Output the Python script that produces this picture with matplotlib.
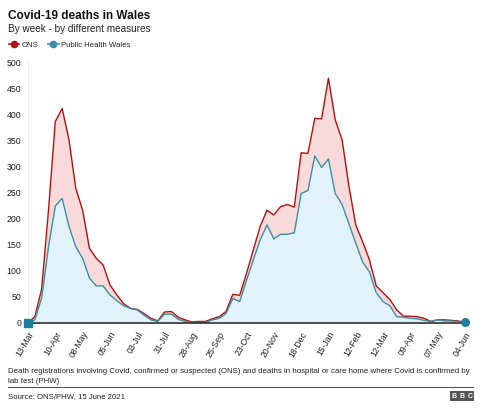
import numpy as np
import matplotlib
matplotlib.use('Agg')
import matplotlib.pyplot as plt
import matplotlib.transforms as mtransforms
from matplotlib.lines import Line2D

plt.rcParams['font.family'] = ['Liberation Sans', 'DejaVu Sans']

# weekly deaths, week ending 13-Mar-2020 .. 04-Jun-2021
ons = [0, 12, 65, 216, 386, 411, 351, 258, 216, 143, 124, 111, 73, 54, 37,
       28, 26, 18, 9, 4, 21, 22, 11, 6, 2, 3, 3, 8, 12, 22,
       55, 53, 95, 140, 185, 216, 207, 223, 227, 222, 326, 325, 392, 391, 469,
       389, 351, 262, 188, 156, 121, 71, 58, 45, 25, 13, 13, 12, 9, 3, 6, 6, 5, 4, 1]
phw = [0, 6, 48, 146, 224, 239, 185, 146, 124, 86, 71, 71, 54, 43, 33,
       28, 25, 15, 6, 3, 17, 17, 7, 3, 1, 1, 1, 6, 9, 18,
       47, 41, 82, 121, 159, 188, 161, 170, 170, 173, 248, 254, 320, 298, 314,
       248, 227, 190, 153, 117, 98, 58, 41, 33, 12, 11, 9, 8, 5, 3, 6, 4, 4, 3, 1]
tick_labels = ['13-Mar', '10-Apr', '08-May', '05-Jun', '03-Jul', '31-Jul', '28-Aug',
               '25-Sep', '23-Oct', '20-Nov', '18-Dec', '15-Jan', '12-Feb', '12-Mar',
               '09-Apr', '07-May', '04-Jun']
y_ticks = [0, 50, 100, 150, 200, 250, 300, 350, 400, 450, 500]

RED = '#b0120f'
PINK = '#f8dada'
TEAL = '#3d8fa6'
LIGHTBLUE = '#e2f2fb'
TXT = '#222222'

W, H = 480, 408
fig = plt.figure(figsize=(W / 100, H / 100), dpi=100)
ax = fig.add_axes([28 / W, 1 - 323 / H, (465 - 28) / W, (323 - 62) / H])

x = np.arange(len(ons))
ax.fill_between(x, ons, 0, color=PINK, lw=0, zorder=1)
ax.fill_between(x, phw, 0, color=LIGHTBLUE, lw=0, zorder=2)
ax.plot(x, ons, color=RED, lw=1.0, zorder=3)
ax.plot(x, phw, color=TEAL, lw=1.0, zorder=4)
ax.plot([x[0]], [phw[0]], marker='s', ms=5.5, color='#1a7f9e', zorder=6, clip_on=False)
ax.plot([x[-1]], [phw[-1]], marker='o', ms=5.5, color='#1a7f9e', zorder=6, clip_on=False)

ax.set_xlim(0, len(ons) - 1)
ax.set_ylim(0, 500)
ax.set_yticks(y_ticks)
ax.set_yticklabels([str(v) for v in y_ticks], fontsize=6.3, color=TXT)
ax.set_xticks(np.arange(0, len(ons), 4))
ax.set_xticklabels(tick_labels, fontsize=6.2, color=TXT, rotation=60,
                   ha='right', va='top', rotation_mode='anchor')
offset = mtransforms.ScaledTranslation(7 / 100, 0, fig.dpi_scale_trans)
for lab in ax.get_xticklabels():
    lab.set_transform(lab.get_transform() + offset)
ax.tick_params(axis='x', length=0, pad=5)
ax.tick_params(axis='y', length=0, pad=5)

for s in ['top', 'right']:
    ax.spines[s].set_visible(False)
ax.spines['left'].set_color('#eeeeee')
ax.spines['left'].set_linewidth(0.8)
ax.spines['bottom'].set_color('#333333')
ax.spines['bottom'].set_linewidth(1.2)
ax.spines['bottom'].set_zorder(5)

# titles
fig.text(8 / W, 1 - 19 / H, 'Covid-19 deaths in Wales', fontsize=8.5, fontweight='bold',
         color='#111111', va='baseline')
fig.text(8 / W, 1 - 32 / H, 'By week - by different measures', fontsize=7.2,
         color=TXT, va='baseline')

handles = [Line2D([], [], color=RED, marker='o', ms=4.5, lw=1.2),
           Line2D([], [], color=TEAL, marker='o', ms=4.5, lw=1.2)]
fig.legend(handles, ['ONS', 'Public Health Wales'], loc='center left',
           bbox_to_anchor=(2 / W, 1 - 45 / H), ncol=2, frameon=False, fontsize=5.6,
           handlelength=1.3, handletextpad=0.3, columnspacing=1.3, labelcolor=TXT)

# footnote
fig.text(8 / W, 1 - 373 / H,
         'Death registrations involving Covid, confirmed or suspected (ONS) and deaths in hospital or care home where Covid is confirmed by',
         fontsize=5.65, color=TXT, va='baseline')
fig.text(8 / W, 1 - 383 / H, 'lab test (PHW)', fontsize=5.65, color=TXT, va='baseline')
fig.add_artist(Line2D([8 / W, 473 / W], [1 - 387 / H, 1 - 387 / H], color='#555555', lw=0.8))
fig.text(8 / W, 1 - 398 / H, 'Source: ONS/PHW, 15 June 2021', fontsize=5.6, color=TXT,
         va='baseline')
for k, ch in enumerate('BBC'):
    fig.text((454 + k * 8) / W, 1 - 396 / H, ch, fontsize=5, color='white', fontweight='bold',
             ha='center', va='center',
             bbox=dict(boxstyle='square,pad=0.2', fc='#555555', ec='none'))

fig.savefig('out.png', dpi=100)
